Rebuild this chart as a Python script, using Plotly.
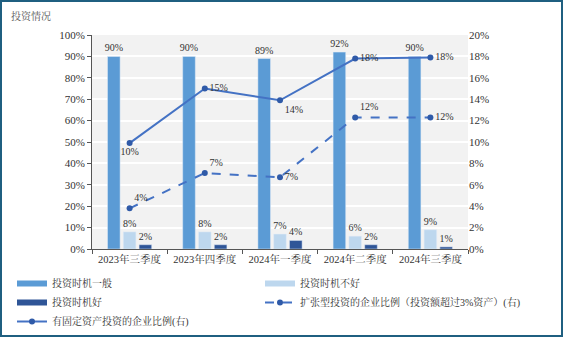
import plotly.graph_objects as go

categories = ["2023年三季度", "2023年四季度", "2024年一季度", "2024年二季度", "2024年三季度"]
general = [90, 90, 89, 92, 90]
bad = [8, 8, 7, 6, 9]
good = [2, 2, 4, 2, 1]
expansion = [3.8, 7.1, 6.7, 12.3, 12.3]
expansion_labels = [4, 7, 7, 12, 12]
fixed = [9.9, 15.0, 13.9, 17.8, 17.9]
fixed_labels = [10, 15, 14, 18, 18]

FONT = "Liberation Serif, 'Noto Serif CJK SC', 'Noto Sans CJK SC', serif"
W, H = 564, 338
L, R, T, B = 92, 96, 35, 89
pw, ph = W - L - R, H - T - B

C_GEN, C_BAD, C_GOOD = "#5b9bd5", "#bdd7ee", "#2f5597"
C_LINE, C_MARK = "#4472c4", "#2f5aa8"

fig = go.Figure()
bar_common = dict(textposition="outside", textfont=dict(size=10, color="#333"),
                  cliponaxis=False, constraintext="none", showlegend=False)
fig.add_trace(go.Bar(x=categories, y=general, name="投资时机一般", marker_color=C_GEN,
                     text=[f"{v}%" for v in general], **bar_common))
fig.add_trace(go.Bar(x=categories, y=bad, name="投资时机不好", marker_color=C_BAD,
                     text=[f"{v}%" for v in bad], **bar_common))
fig.add_trace(go.Bar(x=categories, y=good, name="投资时机好", marker_color=C_GOOD,
                     text=[f"{v}%" for v in good], **bar_common))
fig.add_trace(go.Scatter(x=categories, y=expansion, name="扩张型投资的企业比例（投资额超过3%资产）(右)",
                         yaxis="y2", mode="lines+markers+text", showlegend=False,
                         line=dict(color=C_LINE, width=2, dash="dash"),
                         marker=dict(color=C_MARK, size=6),
                         text=[f"{v}%" for v in expansion_labels],
                         textposition=["top right", "top right", "middle right", "top right", "middle right"],
                         textfont=dict(size=10, color="#333"), cliponaxis=False))
fig.add_trace(go.Scatter(x=categories, y=fixed, name="有固定资产投资的企业比例(右)",
                         yaxis="y2", mode="lines+markers+text", showlegend=False,
                         line=dict(color=C_LINE, width=2),
                         marker=dict(color=C_MARK, size=6),
                         text=[f"{v}%" for v in fixed_labels],
                         textposition=["bottom center", "middle right", "bottom right", "middle right", "middle right"],
                         textfont=dict(size=10, color="#333"), cliponaxis=False))

# legend-only entries (bars shown as wide flat swatches, like the reference)
legend_items = [
    ("投资时机一般", dict(color=C_GEN, width=6), "lines", None, "legend"),
    ("投资时机好", dict(color=C_GOOD, width=6), "lines", None, "legend"),
    ("有固定资产投资的企业比例(右)", dict(color=C_LINE, width=2), "lines+markers", dict(color=C_MARK, size=6), "legend"),
    ("投资时机不好", dict(color=C_BAD, width=6), "lines", None, "legend2"),
    ("扩张型投资的企业比例（投资额超过3%资产）(右)", dict(color=C_LINE, width=2, dash="dash"), "lines+markers", dict(color=C_MARK, size=6), "legend2"),
]
for name, line, mode, marker, lg in legend_items:
    fig.add_trace(go.Scatter(x=[None], y=[None], name=name, mode=mode, line=line,
                             marker=marker if marker else dict(size=1), showlegend=True, legend=lg))

legend_common = dict(orientation="v", xanchor="left", yanchor="top",
                     font=dict(size=10, color="#333"), bgcolor="rgba(0,0,0,0)",
                     tracegroupgap=0, itemwidth=30, traceorder="normal")
top_y = (H - B - 269) / ph

fig.update_layout(
    width=W, height=H,
    margin=dict(l=L, r=R, t=T, b=B, autoexpand=False),
    paper_bgcolor="white", plot_bgcolor="#f2f2f2",
    font=dict(family=FONT, size=10, color="#333"),
    barmode="group", bargap=0.37, bargroupgap=0.2,
    showlegend=True,
    legend=dict(x=(12 - L) / pw, y=top_y, **legend_common),
    legend2=dict(x=(260 - L) / pw, y=top_y, **legend_common),
    xaxis=dict(showline=True, linecolor="#555", linewidth=1, ticks="outside",
               tickson="boundaries", ticklen=4, tickcolor="#555",
               tickfont=dict(size=10.5, color="#333"), showgrid=False),
    yaxis=dict(range=[0, 100], dtick=10, ticksuffix="%", showline=True, linecolor="#555",
               ticks="outside", ticklen=4, tickcolor="#555", gridcolor="white", gridwidth=1.5,
               tickfont=dict(size=11, color="#333"), zeroline=False),
    yaxis2=dict(range=[0, 20], dtick=2, ticksuffix="%", overlaying="y", side="right",
                showgrid=False, showline=False, zeroline=False,
                tickfont=dict(size=11, color="#333")),
)

fig.add_annotation(text="投资情况", xref="paper", yref="paper",
                   x=(9 - L) / pw, y=(H - B - 16) / ph,
                   xanchor="left", yanchor="middle", showarrow=False,
                   font=dict(size=10, color="#555"))

fig.add_shape(type="rect", xref="paper", yref="paper",
              x0=(1 - L) / pw, x1=(W - 2 - L) / pw,
              y0=(H - B - (H - 2)) / ph, y1=(H - B - 1) / ph,
              line=dict(color="#1f5f80", width=2), fillcolor="rgba(0,0,0,0)", layer="above")

fig.write_html("out.html")
